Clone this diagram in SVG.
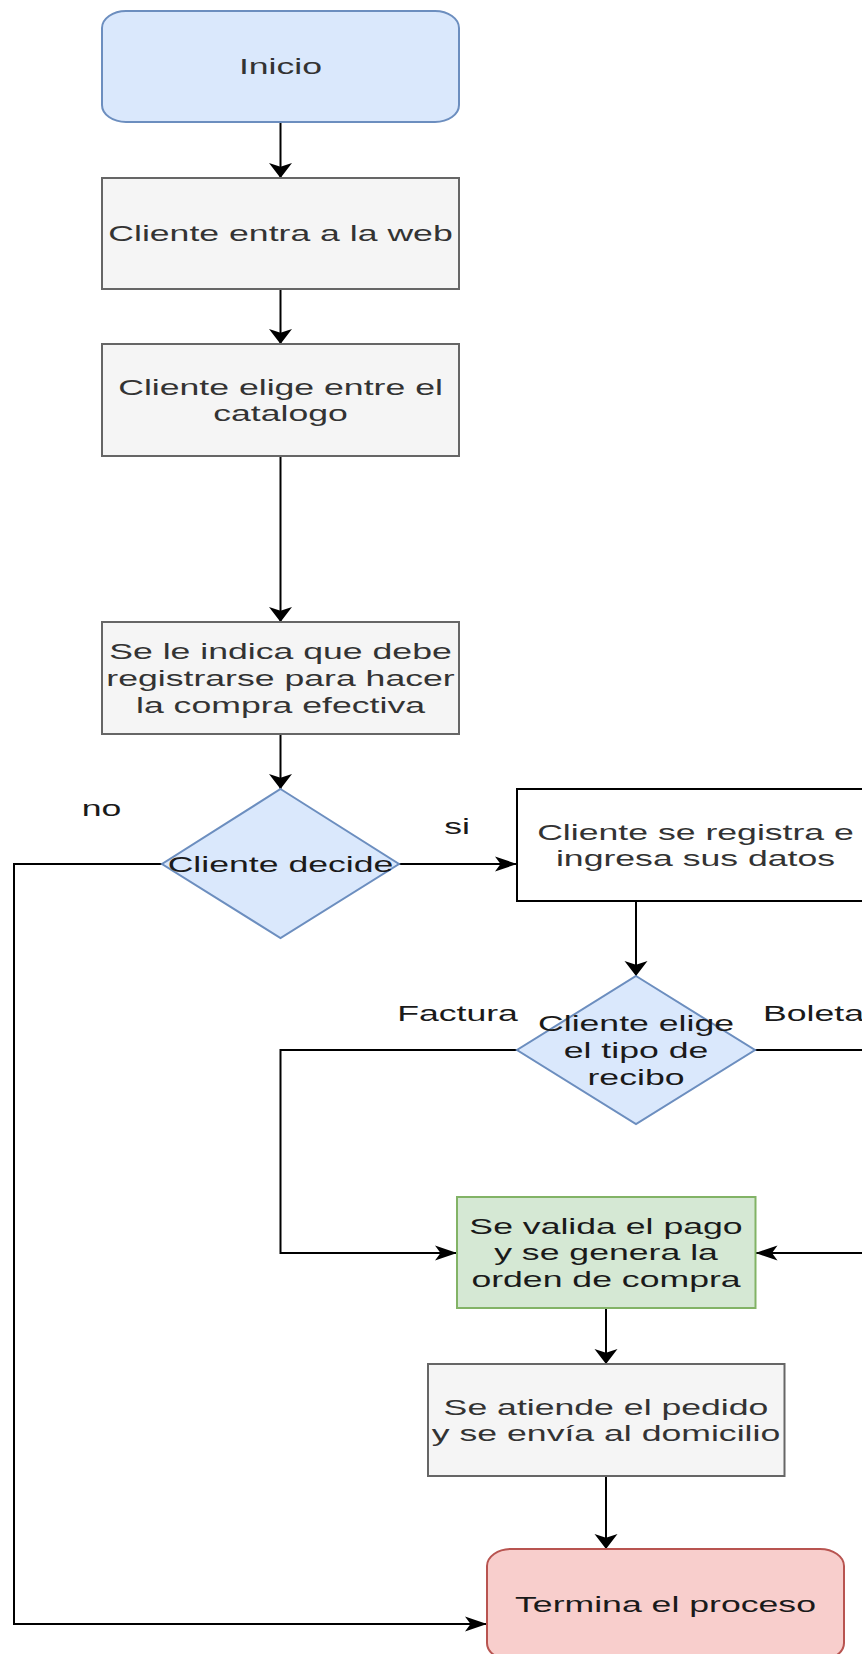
<svg xmlns="http://www.w3.org/2000/svg" width="862" height="1654" viewBox="0 0 862 1654">
<style>
  .t { font-family: "Liberation Sans", Arial, Helvetica, sans-serif; font-size: 22.2px; text-anchor: middle; }
  .gray { fill: #f5f5f5; stroke: #666666; stroke-width: 2; }
  .blue { fill: #dae8fc; stroke: #6c8ebf; stroke-width: 2; }
  .green { fill: #d5e8d4; stroke: #82b366; stroke-width: 2; }
  .red { fill: #f8cecc; stroke: #b85450; stroke-width: 2; }
  .plain { fill: #ffffff; stroke: #000000; stroke-width: 2; }
  .tg { fill: #333333; }
  .tk { fill: #1a1a1a; }
  .edge { fill: none; stroke: #000000; stroke-width: 2; }
  .down { marker-end: url(#ad); }
  .side { marker-end: url(#ah); }
</style>
<defs>
  <marker id="ad" markerUnits="userSpaceOnUse" markerWidth="16" markerHeight="24" refX="15" refY="12" orient="auto">
    <path d="M0,0.5 L15,12 L0,23.5 L3.75,12 Z" fill="#000000"/>
  </marker>
  <marker id="ah" markerUnits="userSpaceOnUse" markerWidth="23" markerHeight="16" refX="22" refY="8" orient="auto">
    <path d="M0,0.5 L22,8 L0,15.5 L5.5,8 Z" fill="#000000"/>
  </marker>
</defs>
<rect width="862" height="1654" fill="#ffffff"/>

<g id="connectors">
  <path class="edge down" d="M280.5,122 V178"/>
  <path class="edge down" d="M280.5,289 V344"/>
  <path class="edge down" d="M280.5,456 V622"/>
  <path class="edge down" d="M280.5,734 V789"/>
  <path class="edge side" d="M399,864 H517"/>
  <path class="edge side" d="M162,864 H14 V1624 H487"/>
  <path class="edge down" d="M636,901 V976"/>
  <path class="edge side" d="M517,1050 H280.5 V1253 H457"/>
  <path class="edge side" d="M755,1050 H900 V1253 H755.5"/>
  <path class="edge down" d="M606,1308 V1364"/>
  <path class="edge down" d="M606,1476 V1549"/>
  <text class="t tk" transform="matrix(1.605 0 0 1 101.5 0)" x="0" y="816">no</text>
  <text class="t tk" transform="matrix(1.605 0 0 1 457 0)" x="0" y="834">si</text>
  <text class="t tk" transform="matrix(1.605 0 0 1 457.5 0)" x="0" y="1021">Factura</text>
  <text class="t tk" transform="matrix(1.605 0 0 1 763 0)" x="0" y="1021" style="text-anchor:start">Boleta</text>
</g>

<g id="inicio">
  <rect class="blue" x="102" y="11" width="357" height="111" rx="24" ry="17"/>
  <text class="t tg" transform="matrix(1.605 0 0 1 280.5 0)" x="0" y="74.5">Inicio</text>
</g>

<g id="entra">
  <rect class="gray" x="102" y="178" width="357" height="111"/>
  <text class="t tg" transform="matrix(1.605 0 0 1 280.5 0)" x="0" y="241.5">Cliente entra a la web</text>
</g>

<g id="elige-catalogo">
  <rect class="gray" x="102" y="344" width="357" height="112"/>
  <text class="t tg" transform="matrix(1.605 0 0 1 280.5 0)" y="394.7"><tspan x="0">Cliente elige entre el</tspan><tspan x="0" dy="26.6">catalogo</tspan></text>
</g>

<g id="indica">
  <rect class="gray" x="102" y="622" width="357" height="112"/>
  <text class="t tg" transform="matrix(1.605 0 0 1 280.5 0)" y="659.4"><tspan x="0">Se le indica que debe</tspan><tspan x="0" dy="26.6">registrarse para hacer</tspan><tspan x="0" dy="26.6">la compra efectiva</tspan></text>
</g>

<g id="decide">
  <polygon class="blue" points="280.5,789 399,864 280.5,938 162,864"/>
  <text class="t tk" transform="matrix(1.605 0 0 1 280.5 0)" x="0" y="872">Cliente decide</text>
</g>

<g id="registra">
  <rect class="plain" x="517" y="789" width="357" height="112"/>
  <text class="t tg" transform="matrix(1.605 0 0 1 695.5 0)" y="839.7"><tspan x="0">Cliente se registra e</tspan><tspan x="0" dy="26.6">ingresa sus datos</tspan></text>
</g>

<g id="recibo">
  <polygon class="blue" points="636,976 755,1050 636,1124 517,1050"/>
  <text class="t tk" transform="matrix(1.605 0 0 1 636 0)" y="1031.4"><tspan x="0">Cliente elige</tspan><tspan x="0" dy="26.6">el tipo de</tspan><tspan x="0" dy="26.6">recibo</tspan></text>
</g>

<g id="valida">
  <rect class="green" x="457" y="1197" width="298.5" height="111"/>
  <text class="t tk" transform="matrix(1.605 0 0 1 606 0)" y="1233.9"><tspan x="0">Se valida el pago</tspan><tspan x="0" dy="26.6">y se genera la</tspan><tspan x="0" dy="26.6">orden de compra</tspan></text>
</g>

<g id="atiende">
  <rect class="gray" x="428" y="1364" width="356.5" height="112"/>
  <text class="t tg" transform="matrix(1.605 0 0 1 606 0)" y="1414.7"><tspan x="0">Se atiende el pedido</tspan><tspan x="0" dy="26.6">y se envía al domicilio</tspan></text>
</g>

<g id="termina">
  <rect class="red" x="487" y="1549" width="357" height="111" rx="24" ry="17"/>
  <text class="t tk" transform="matrix(1.605 0 0 1 665.5 0)" x="0" y="1612.5">Termina el proceso</text>
</g>
</svg>
